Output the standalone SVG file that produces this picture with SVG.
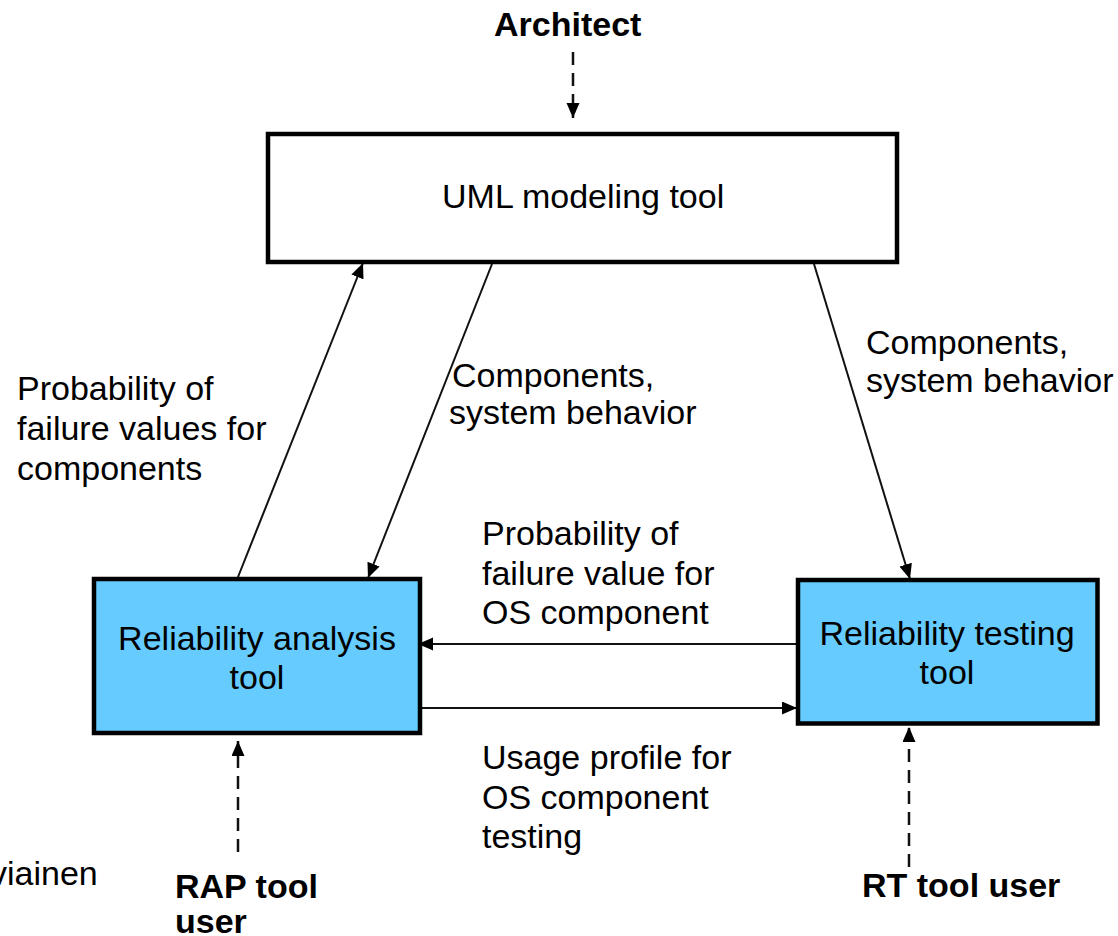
<svg xmlns="http://www.w3.org/2000/svg" width="1118" height="936" viewBox="0 0 1118 936">
  <style>
    .t { font-family: "Liberation Sans", Arial, sans-serif; font-size: 34px; fill: #000; }
    .b { font-weight: bold; }
    .box { stroke: #000; stroke-width: 4.5; }
    .tool { fill: #66CCFF; }
    .plain { fill: #FFFFFF; }
    .flow { stroke: #111; stroke-width: 2; fill: none; marker-end: url(#head); }
    .actor { stroke: #111; stroke-width: 2.5; fill: none; stroke-dasharray: 13 8; marker-end: url(#head); }
  </style>
  <defs>
    <marker id="head" markerUnits="userSpaceOnUse" markerWidth="16" markerHeight="14" refX="15" refY="6.5" orient="auto">
      <path d="M0,0 L15,6.5 L0,13 Z" fill="#000"/>
    </marker>
  </defs>

  <rect width="1118" height="936" fill="#FFFFFF"/>

  <g id="connectors">
    <!-- actors -->
    <line class="actor" x1="573" y1="52" x2="573" y2="118"/>
    <line class="actor" x1="238" y1="852" x2="238" y2="741"/>
    <line class="actor" x1="909" y1="867" x2="909" y2="727"/>
    <!-- data flows -->
    <line class="flow" x1="238" y1="577" x2="363" y2="263"/>
    <line class="flow" x1="492" y1="264" x2="368" y2="578"/>
    <line class="flow" x1="814" y1="264" x2="910" y2="579"/>
    <line class="flow" x1="796" y1="644" x2="418" y2="644"/>
    <line class="flow" x1="416" y1="708" x2="797" y2="708"/>
  </g>

  <g id="uml-tool">
    <rect class="box plain" x="268" y="134" width="629" height="128"/>
    <text class="t" x="442" y="208">UML modeling tool</text>
  </g>

  <g id="rap-tool">
    <rect class="box tool" x="94" y="579" width="326" height="154"/>
    <text class="t" x="257" y="650" text-anchor="middle">Reliability analysis</text>
    <text class="t" x="257" y="689" text-anchor="middle">tool</text>
  </g>

  <g id="rt-tool">
    <rect class="box tool" x="798" y="580" width="299.5" height="143.5"/>
    <text class="t" x="947" y="645" text-anchor="middle">Reliability testing</text>
    <text class="t" x="947" y="684" text-anchor="middle">tool</text>
  </g>

  <g id="actor-architect">
    <text class="t b" x="494" y="36">Architect</text>
  </g>
  <g id="actor-rap-user">
    <text class="t b" x="175" y="898">RAP tool</text>
    <text class="t b" x="175" y="933">user</text>
  </g>
  <g id="actor-rt-user">
    <text class="t b" x="862" y="897">RT tool user</text>
  </g>

  <g id="labels">
    <text class="t" x="17" y="400">Probability of</text>
    <text class="t" x="17" y="440">failure values for</text>
    <text class="t" x="17" y="480">components</text>

    <text class="t" x="452" y="387">Components,</text>
    <text class="t" x="449" y="424">system behavior</text>

    <text class="t" x="866" y="354">Components,</text>
    <text class="t" x="866" y="392">system behavior</text>

    <text class="t" x="482" y="545">Probability of</text>
    <text class="t" x="482" y="585">failure value for</text>
    <text class="t" x="482" y="624">OS component</text>

    <text class="t" x="482" y="769">Usage profile for</text>
    <text class="t" x="482" y="809">OS component</text>
    <text class="t" x="482" y="848">testing</text>

    <text class="t" x="-10" y="885">viainen</text>
  </g>
</svg>
